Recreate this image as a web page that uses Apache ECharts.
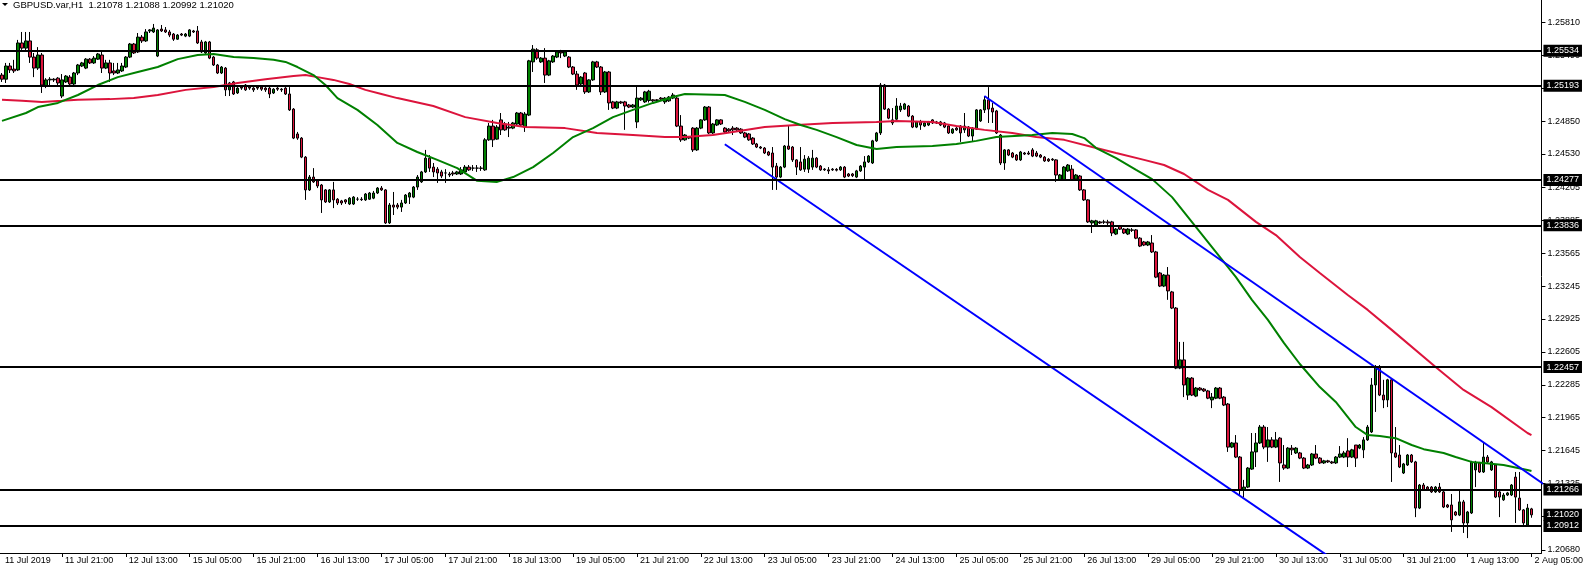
<!DOCTYPE html>
<html><head><meta charset="utf-8">
<script src="https://cdn.jsdelivr.net/npm/echarts@6/dist/echarts.min.js"></script>
<style>html,body{margin:0;padding:0;background:#fff}#c{width:1586px;height:568px}</style>
</head><body><div id="c"></div>
<script>
const chartTitle = 'GBPUSD.var,H1  1.21078 1.21088 1.20992 1.21020';
const xTickLabels = ['11 Jul 2019','11 Jul 21:00','12 Jul 13:00','15 Jul 05:00','15 Jul 21:00','16 Jul 13:00','17 Jul 05:00','17 Jul 21:00','18 Jul 13:00','19 Jul 05:00','21 Jul 21:00','22 Jul 13:00','23 Jul 05:00','23 Jul 21:00','24 Jul 13:00','25 Jul 05:00','25 Jul 21:00','26 Jul 13:00','29 Jul 05:00','29 Jul 21:00','30 Jul 13:00','31 Jul 05:00','31 Jul 21:00','1 Aug 13:00','2 Aug 05:00'];
const yTickValues = [1.25810,1.25490,1.25170,1.24850,1.24530,1.24205,1.23885,1.23565,1.23245,1.22925,1.22605,1.22285,1.21965,1.21645,1.21325,1.21005,1.20680];
const levels = [1.25534,1.25193,1.24277,1.23836,1.22457,1.21266,1.20912];
const bidPrice = 1.21020;

const opens = [
1.25297,1.25257,1.25385,1.25355,1.25347,1.25609,1.25559,1.25629,1.25472,1.25365,
1.25492,1.25190,1.25250,1.25257,1.25267,1.25093,1.25230,1.25277,1.25210,1.25317,
1.25385,1.25365,1.25452,1.25415,1.25452,1.25492,1.25365,1.25415,1.25337,1.25317,
1.25337,1.25375,1.25472,1.25599,1.25522,1.25666,1.25629,1.25726,1.25716,1.25482,
1.25744,1.25736,1.25716,1.25696,1.25646,1.25696,1.25676,1.25676,1.25726,1.25726,
1.25619,1.25512,1.25619,1.25472,1.25395,1.25317,1.25365,1.25153,1.25230,1.25123,
1.25180,1.25200,1.25180,1.25170,1.25180,1.25180,1.25170,1.25170,1.25123,1.25170,
1.25160,1.25170,1.25113,1.24966,1.24724,1.24684,1.24499,1.24180,1.24305,1.24268,
1.24228,1.24180,1.24063,1.24180,1.24090,1.24073,1.24083,1.24043,1.24043,1.24090,
1.24090,1.24083,1.24090,1.24100,1.24150,1.24198,1.24180,1.23859,1.24033,1.24033,
1.24013,1.24053,1.24110,1.24110,1.24208,1.24258,1.24355,1.24489,1.24402,1.24382,
1.24355,1.24345,1.24335,1.24345,1.24335,1.24335,1.24355,1.24402,1.24392,1.24392,
1.24392,1.24375,1.24667,1.24801,1.24674,1.24861,1.24821,1.24791,1.24781,1.24821,
1.24928,1.24791,1.24908,1.25425,1.25542,1.25425,1.25462,1.25297,1.25425,1.25472,
1.25522,1.25482,1.25472,1.25375,1.25307,1.25210,1.25317,1.25133,1.25250,1.25425,
1.25375,1.25133,1.25327,1.25036,1.24976,1.25036,1.25036,1.25006,1.24986,1.24841,
1.25056,1.25036,1.25050,1.25056,1.25056,1.25073,1.25036,1.25046,1.25073,1.25073,
1.24801,1.24667,1.24694,1.24781,1.24569,1.24781,1.24861,1.24986,1.24734,1.24811,
1.24861,1.24781,1.24771,1.24781,1.24781,1.24771,1.24734,1.24724,1.24684,1.24627,
1.24597,1.24587,1.24549,1.24539,1.24412,1.24305,1.24402,1.24607,1.24597,1.24472,
1.24452,1.24382,1.24382,1.24402,1.24489,1.24412,1.24382,1.24375,1.24382,1.24380,
1.24375,1.24402,1.24335,1.24335,1.24305,1.24365,1.24402,1.24452,1.24442,1.24657,
1.24734,1.25200,1.24966,1.24831,1.24868,1.24958,1.24966,1.24996,1.24898,1.24791,
1.24841,1.24801,1.24811,1.24861,1.24841,1.24811,1.24831,1.24801,1.24734,1.24781,
1.24801,1.24764,1.24791,1.24704,1.24771,1.24851,1.24958,1.25056,1.24976,1.24948,
1.24714,1.24442,1.24569,1.24539,1.24519,1.24472,1.24539,1.24539,1.24569,1.24539,
1.24519,1.24499,1.24479,1.24479,1.24472,1.24278,1.24278,1.24365,1.24382,1.24285,
1.24315,1.24180,1.24083,1.23859,1.23839,1.23869,1.23869,1.23869,1.23869,1.23751,
1.23829,1.23799,1.23751,1.23791,1.23791,1.23711,1.23674,1.23644,1.23664,1.23577,
1.23372,1.23245,1.23352,1.23188,1.23031,1.22447,1.22527,1.22185,1.22350,1.22175,
1.22253,1.22243,1.22225,1.22138,1.22155,1.22253,1.22165,1.22098,1.21679,1.21719,
1.21582,1.21263,1.21290,1.21465,1.21632,1.21719,1.21874,1.21679,1.21749,1.21679,
1.21766,1.21505,1.21475,1.21669,1.21622,1.21622,1.21572,1.21475,1.21505,1.21612,
1.21572,1.21525,1.21545,1.21535,1.21525,1.21582,1.21582,1.21642,1.21582,1.21699,
1.21669,1.21652,1.21749,1.21826,1.22283,1.22457,1.22185,1.22138,1.22333,1.21622,
1.21602,1.21427,1.21505,1.21602,1.21535,1.21086,1.21310,1.21290,1.21290,1.21243,
1.21290,1.21243,1.21116,1.21116,1.21048,1.21018,1.21146,1.20941,1.21038,1.21457,
1.21525,1.21437,1.21582,1.21457,1.21505,1.21243,1.21166,1.21213,1.21213,1.21387,
1.21183,1.21068,1.20921,1.21078];
const closes = [
1.25257,1.25385,1.25347,1.25337,1.25609,1.25559,1.25629,1.25472,1.25365,1.25492,
1.25200,1.25250,1.25257,1.25250,1.25220,1.25250,1.25287,1.25210,1.25317,1.25395,
1.25415,1.25452,1.25415,1.25462,1.25502,1.25365,1.25415,1.25317,1.25317,1.25347,
1.25385,1.25472,1.25599,1.25512,1.25666,1.25629,1.25716,1.25736,1.25754,1.25736,
1.25726,1.25716,1.25686,1.25646,1.25686,1.25686,1.25696,1.25736,1.25716,1.25609,
1.25522,1.25619,1.25462,1.25395,1.25317,1.25375,1.25153,1.25220,1.25113,1.25170,
1.25170,1.25153,1.25170,1.25153,1.25170,1.25160,1.25153,1.25113,1.25160,1.25160,
1.25153,1.25113,1.24958,1.24684,1.24684,1.24499,1.24180,1.24305,1.24258,1.24218,
1.24083,1.24063,1.24180,1.24083,1.24053,1.24053,1.24063,1.24100,1.24110,1.24090,
1.24085,1.24140,1.24150,1.24150,1.24198,1.24180,1.23859,1.24033,1.24013,1.24013,
1.24053,1.24130,1.24150,1.24208,1.24305,1.24355,1.24489,1.24392,1.24355,1.24345,
1.24315,1.24345,1.24325,1.24335,1.24355,1.24375,1.24402,1.24375,1.24392,1.24392,
1.24390,1.24667,1.24801,1.24667,1.24791,1.24764,1.24764,1.24781,1.24831,1.24928,
1.24811,1.24918,1.25435,1.25549,1.25462,1.25462,1.25297,1.25435,1.25482,1.25522,
1.25512,1.25522,1.25375,1.25307,1.25200,1.25277,1.25133,1.25250,1.25425,1.25375,
1.25133,1.25327,1.25026,1.24976,1.25036,1.25026,1.24996,1.24986,1.25006,1.25073,
1.25073,1.25133,1.25140,1.25046,1.25050,1.25063,1.25073,1.25083,1.25103,1.24801,
1.24667,1.24714,1.24684,1.24569,1.24781,1.24861,1.24986,1.24734,1.24821,1.24861,
1.24821,1.24744,1.24754,1.24764,1.24764,1.24734,1.24694,1.24667,1.24627,1.24597,
1.24587,1.24539,1.24519,1.24402,1.24305,1.24402,1.24607,1.24577,1.24472,1.24402,
1.24375,1.24479,1.24489,1.24489,1.24402,1.24375,1.24375,1.24365,1.24375,1.24372,
1.24402,1.24305,1.24315,1.24318,1.24365,1.24412,1.24452,1.24509,1.24657,1.24734,
1.25200,1.24966,1.24878,1.24861,1.24996,1.24996,1.25016,1.24898,1.24791,1.24841,
1.24811,1.24831,1.24841,1.24831,1.24831,1.24841,1.24791,1.24734,1.24771,1.24764,
1.24734,1.24801,1.24704,1.24781,1.24958,1.24958,1.25056,1.24966,1.24938,1.24734,
1.24442,1.24569,1.24519,1.24499,1.24472,1.24549,1.24529,1.24529,1.24509,1.24509,
1.24499,1.24462,1.24462,1.24472,1.24325,1.24325,1.24402,1.24422,1.24278,1.24325,
1.24180,1.24083,1.23869,1.23879,1.23879,1.23859,1.23866,1.23859,1.23761,1.23799,
1.23799,1.23761,1.23799,1.23788,1.23711,1.23634,1.23644,1.23674,1.23577,1.23332,
1.23245,1.23352,1.23198,1.23031,1.22447,1.22527,1.22283,1.22350,1.22185,1.22253,
1.22235,1.22225,1.22155,1.22165,1.22253,1.22155,1.22088,1.21679,1.21719,1.21582,
1.21263,1.21290,1.21475,1.21632,1.21719,1.21874,1.21679,1.21749,1.21679,1.21749,
1.21525,1.21475,1.21669,1.21652,1.21669,1.21572,1.21475,1.21505,1.21612,1.21572,
1.21525,1.21545,1.21535,1.21525,1.21582,1.21612,1.21622,1.21582,1.21652,1.21572,
1.21699,1.21749,1.21874,1.22283,1.22457,1.22185,1.22138,1.22333,1.21622,1.21582,
1.21485,1.21515,1.21602,1.21535,1.21086,1.21310,1.21263,1.21270,1.21243,1.21290,
1.21243,1.21096,1.21096,1.20971,1.21018,1.21146,1.20941,1.21048,1.21535,1.21525,
1.21437,1.21582,1.21535,1.21535,1.21193,1.21193,1.21213,1.21233,1.21310,1.21193,
1.21068,1.20941,1.21086,1.21020];
const lows = [
1.25230,1.25220,1.25317,1.25317,1.25337,1.25542,1.25522,1.25415,1.25277,1.25347,
1.25123,1.25170,1.25200,1.25230,1.25200,1.25073,1.25220,1.25200,1.25200,1.25297,
1.25375,1.25355,1.25405,1.25405,1.25445,1.25317,1.25355,1.25230,1.25297,1.25307,
1.25327,1.25365,1.25462,1.25502,1.25512,1.25609,1.25619,1.25706,1.25706,1.25472,
1.25716,1.25706,1.25666,1.25629,1.25639,1.25676,1.25666,1.25666,1.25706,1.25599,
1.25512,1.25502,1.25452,1.25385,1.25307,1.25307,1.25093,1.25093,1.25103,1.25113,
1.25153,1.25143,1.25153,1.25133,1.25153,1.25143,1.25133,1.25073,1.25113,1.25143,
1.25133,1.25103,1.24948,1.24674,1.24667,1.24489,1.24083,1.24170,1.24248,1.24198,
1.23956,1.24053,1.24053,1.24003,1.24033,1.24033,1.24043,1.24033,1.24033,1.24073,
1.24073,1.24073,1.24083,1.24090,1.24140,1.24170,1.23849,1.23849,1.23936,1.23993,
1.23966,1.24043,1.24043,1.24100,1.24180,1.24248,1.24345,1.24355,1.24305,1.24248,
1.24295,1.24248,1.24305,1.24315,1.24325,1.24325,1.24345,1.24365,1.24365,1.24355,
1.24365,1.24365,1.24657,1.24597,1.24667,1.24714,1.24754,1.24694,1.24771,1.24811,
1.24801,1.24744,1.24898,1.25327,1.25445,1.25415,1.25220,1.25287,1.25415,1.25462,
1.25462,1.25472,1.25365,1.25297,1.25153,1.25200,1.25113,1.25123,1.25240,1.25365,
1.25103,1.25123,1.24958,1.24966,1.24966,1.25016,1.24764,1.24976,1.24976,1.24781,
1.25046,1.25026,1.25030,1.25036,1.25046,1.25056,1.25016,1.25036,1.25063,1.24791,
1.24647,1.24657,1.24674,1.24549,1.24559,1.24771,1.24851,1.24724,1.24724,1.24801,
1.24811,1.24734,1.24744,1.24714,1.24754,1.24724,1.24684,1.24657,1.24617,1.24587,
1.24577,1.24529,1.24509,1.24180,1.24180,1.24295,1.24392,1.24569,1.24452,1.24325,
1.24365,1.24355,1.24345,1.24375,1.24392,1.24365,1.24365,1.24335,1.24365,1.24360,
1.24365,1.24295,1.24305,1.24305,1.24295,1.24355,1.24278,1.24442,1.24432,1.24647,
1.24714,1.24958,1.24868,1.24811,1.24861,1.24938,1.24958,1.24888,1.24781,1.24781,
1.24764,1.24791,1.24801,1.24821,1.24821,1.24801,1.24781,1.24724,1.24724,1.24754,
1.24647,1.24734,1.24694,1.24647,1.24764,1.24841,1.24928,1.24831,1.24831,1.24724,
1.24422,1.24375,1.24509,1.24489,1.24462,1.24462,1.24519,1.24519,1.24499,1.24499,
1.24489,1.24452,1.24452,1.24462,1.24258,1.24268,1.24268,1.24355,1.24268,1.24278,
1.24170,1.24073,1.23859,1.23761,1.23829,1.23849,1.23849,1.23839,1.23731,1.23741,
1.23791,1.23751,1.23741,1.23771,1.23701,1.23624,1.23634,1.23634,1.23567,1.23322,
1.23235,1.23235,1.23111,1.23021,1.22437,1.22437,1.22165,1.22138,1.22175,1.22165,
1.22225,1.22215,1.22145,1.22058,1.22145,1.22145,1.22078,1.21632,1.21669,1.21572,
1.21213,1.21193,1.21280,1.21457,1.21485,1.21709,1.21659,1.21535,1.21669,1.21669,
1.21340,1.21457,1.21465,1.21602,1.21612,1.21562,1.21465,1.21465,1.21495,1.21562,
1.21515,1.21515,1.21525,1.21515,1.21515,1.21572,1.21572,1.21485,1.21572,1.21485,
1.21659,1.21572,1.21739,1.21816,1.22021,1.22175,1.22058,1.22068,1.21340,1.21572,
1.21475,1.21417,1.21495,1.21525,1.20998,1.21076,1.21253,1.21263,1.21233,1.21233,
1.21233,1.21086,1.21086,1.20854,1.21008,1.21008,1.20844,1.20794,1.21028,1.21290,
1.21427,1.21427,1.21525,1.21447,1.21183,1.20998,1.21156,1.21203,1.21203,1.20941,
1.21058,1.20911,1.20911,1.20992];
const highs = [
1.25317,1.25415,1.25415,1.25445,1.25639,1.25716,1.25716,1.25716,1.25512,1.25569,
1.25512,1.25267,1.25277,1.25267,1.25277,1.25307,1.25297,1.25297,1.25327,1.25405,
1.25425,1.25462,1.25462,1.25482,1.25512,1.25522,1.25445,1.25445,1.25415,1.25415,
1.25415,1.25482,1.25609,1.25609,1.25706,1.25686,1.25744,1.25744,1.25794,1.25744,
1.25784,1.25764,1.25736,1.25706,1.25696,1.25706,1.25706,1.25744,1.25736,1.25774,
1.25639,1.25629,1.25629,1.25482,1.25405,1.25385,1.25375,1.25230,1.25240,1.25180,
1.25190,1.25210,1.25190,1.25180,1.25190,1.25190,1.25180,1.25190,1.25170,1.25180,
1.25170,1.25180,1.25180,1.24976,1.24744,1.24694,1.24509,1.24325,1.24392,1.24278,
1.24238,1.24188,1.24188,1.24258,1.24100,1.24083,1.24090,1.24110,1.24120,1.24110,
1.24110,1.24150,1.24160,1.24170,1.24208,1.24218,1.24188,1.24053,1.24160,1.24053,
1.24083,1.24140,1.24160,1.24218,1.24325,1.24365,1.24569,1.24519,1.24442,1.24402,
1.24375,1.24382,1.24355,1.24365,1.24365,1.24402,1.24422,1.24422,1.24422,1.24422,
1.24412,1.24684,1.24831,1.24861,1.24811,1.24928,1.24841,1.24841,1.24841,1.24938,
1.24938,1.24938,1.25445,1.25589,1.25559,1.25472,1.25559,1.25445,1.25492,1.25532,
1.25542,1.25532,1.25482,1.25385,1.25337,1.25287,1.25327,1.25257,1.25435,1.25435,
1.25385,1.25337,1.25337,1.25046,1.25046,1.25046,1.25046,1.25016,1.25016,1.25200,
1.25083,1.25143,1.25153,1.25063,1.25063,1.25083,1.25083,1.25093,1.25123,1.25103,
1.24908,1.24724,1.24704,1.24791,1.24791,1.24868,1.24996,1.24996,1.24831,1.24868,
1.24868,1.24791,1.24781,1.24801,1.24791,1.24781,1.24744,1.24734,1.24694,1.24637,
1.24607,1.24597,1.24559,1.24597,1.24442,1.24412,1.24617,1.24811,1.24607,1.24479,
1.24597,1.24519,1.24509,1.24569,1.24499,1.24422,1.24392,1.24402,1.24392,1.24392,
1.24412,1.24412,1.24345,1.24345,1.24375,1.24422,1.24509,1.24519,1.24667,1.24744,
1.25220,1.25210,1.24976,1.24976,1.25073,1.25026,1.25026,1.25006,1.24908,1.24851,
1.24861,1.24841,1.24851,1.24868,1.24851,1.24851,1.24841,1.24811,1.24781,1.24791,
1.24811,1.24928,1.24801,1.24791,1.24966,1.24966,1.25093,1.25180,1.25026,1.24958,
1.24724,1.24577,1.24577,1.24549,1.24529,1.24559,1.24549,1.24559,1.24587,1.24559,
1.24529,1.24509,1.24489,1.24489,1.24479,1.24335,1.24412,1.24432,1.24422,1.24335,
1.24325,1.24188,1.24090,1.23889,1.23889,1.23879,1.23889,1.23889,1.23879,1.23809,
1.23839,1.23809,1.23809,1.23809,1.23799,1.23721,1.23684,1.23684,1.23741,1.23587,
1.23382,1.23362,1.23430,1.23198,1.23041,1.22702,1.22702,1.22360,1.22360,1.22263,
1.22263,1.22253,1.22235,1.22205,1.22263,1.22263,1.22175,1.22108,1.21729,1.21796,
1.21592,1.21360,1.21485,1.21816,1.21816,1.21894,1.21894,1.21874,1.21776,1.21826,
1.21776,1.21699,1.21679,1.21699,1.21679,1.21632,1.21582,1.21515,1.21622,1.21699,
1.21582,1.21555,1.21555,1.21545,1.21592,1.21689,1.21642,1.21766,1.21662,1.21699,
1.21709,1.21776,1.21894,1.22350,1.22477,1.22477,1.22333,1.22343,1.22343,1.21874,
1.21699,1.21525,1.21612,1.21612,1.21545,1.21320,1.21330,1.21300,1.21300,1.21300,
1.21330,1.21253,1.21126,1.21223,1.21058,1.21263,1.21165,1.21058,1.21545,1.21545,
1.21535,1.21719,1.21602,1.21545,1.21515,1.21253,1.21233,1.21243,1.21320,1.21437,
1.21437,1.21077,1.21126,1.21088];

// moving averages, read as [bar index, price]
const maGreen = [[0,1.24851],[6,1.24928],[9,1.24986],[14,1.25026],[19,1.25103],[24,1.25200],[29,1.25277],[34,1.25327],[39,1.25375],[44,1.25452],[49,1.25492],[53,1.25502],[58,1.25472],[63,1.25462],[68,1.25445],[71,1.25425],[74,1.25375],[78,1.25297],[81,1.25200],[84,1.25073],[89,1.24958],[94,1.24811],[99,1.24637],[104,1.24549],[109,1.24472],[114,1.24392],[119,1.24268],[124,1.24258],[128,1.24305],[133,1.24402],[138,1.24539],[143,1.24694],[148,1.24781],[153,1.24888],[158,1.24958],[163,1.25026],[168,1.25083],[171,1.25113],[181,1.25103],[186,1.25036],[191,1.24958],[196,1.24868],[200,1.24811],[204,1.24764],[209,1.24694],[214,1.24617],[219,1.24577],[224,1.24597],[233,1.24607],[239,1.24627],[244,1.24657],[249,1.24694],[258,1.24714],[263,1.24734],[268,1.24724],[271,1.24684],[274,1.24587],[279,1.24489],[284,1.24375],[288,1.24285],[293,1.24110],[299,1.23819],[305,1.23527],[309,1.23332],[313,1.23111],[317,1.22916],[321,1.22692],[325,1.22487],[330,1.22263],[334,1.22118],[339,1.21874],[342,1.21796],[345,1.21786],[349,1.21766],[353,1.21699],[356,1.21659],[361,1.21622],[364,1.21582],[368,1.21535],[371,1.21525],[376,1.21505],[382,1.21457],[383,1.21447]];
const maRed = [[0,1.25056],[5,1.25046],[10,1.25036],[15,1.25046],[19,1.25056],[27,1.25063],[33,1.25073],[39,1.25103],[46,1.25153],[53,1.25180],[59,1.25220],[66,1.25257],[73,1.25287],[76,1.25297],[79,1.25277],[83,1.25250],[87,1.25210],[91,1.25153],[95,1.25113],[99,1.25073],[108,1.24996],[116,1.24888],[124,1.24831],[131,1.24791],[141,1.24781],[149,1.24734],[158,1.24714],[166,1.24694],[171,1.24694],[178,1.24714],[183,1.24744],[191,1.24791],[199,1.24811],[208,1.24831],[219,1.24841],[224,1.24851],[233,1.24841],[239,1.24801],[246,1.24764],[253,1.24734],[259,1.24694],[266,1.24667],[273,1.24597],[279,1.24539],[286,1.24472],[291,1.24422],[296,1.24335],[302,1.24180],[307,1.24083],[314,1.23869],[319,1.23741],[325,1.23527],[330,1.23372],[337,1.23158],[342,1.23013],[348,1.22819],[359,1.22457],[366,1.22235],[373,1.22068],[382,1.21816],[383,1.21796]];
const channelUpper = [[246,1.25093],[386,1.21320]];
const channelLower = [[181,1.24624],[340,1.20410]];

const FONT = "'Liberation Sans', Arial, sans-serif";
const barCount = opens.length;
const slotCount = barCount + 2;
const cats = [], labelAt = {};
for (let i = 0; i < slotCount; i++) cats.push(String(i));
labelAt[0] = xTickLabels[0];
for (let k = 1; k < xTickLabels.length; k++) labelAt[15 + 16 * (k - 1)] = xTickLabels[k];
const candles = opens.map((o, i) => [o, closes[i], lows[i], highs[i]]);

const boxLabel = {show: true, position: 'end', distance: 2, formatter: (p) => Number(p.value).toFixed(5),
  color: '#fff', backgroundColor: '#000', padding: [2, 3, 1, 3], fontSize: 9,
  fontFamily: FONT, align: 'left', verticalAlign: 'middle'};

const chart = echarts.init(document.getElementById('c'), null, {renderer: 'canvas'});
chart.setOption({
  animation: false,
  backgroundColor: '#ffffff',
  title: {text: chartTitle, left: 13, top: 0, padding: 0,
    textStyle: {fontSize: 9.5, fontWeight: 'normal', color: '#000', fontFamily: FONT}},
  graphic: [{type: 'polygon', shape: {points: [[2, 3], [8, 3], [5, 6]]}, style: {fill: '#000'}}],
  grid: {left: 0, right: 42, top: 0, bottom: 15, containLabel: false},
  xAxis: {
    type: 'category', data: cats, boundaryGap: true,
    axisLine: {show: true, lineStyle: {color: '#000', width: 1}},
    axisTick: {show: true, alignWithLabel: true, length: 4, lineStyle: {color: '#000'},
      interval: (i) => labelAt[i] !== undefined && i > 0},
    axisLabel: {show: true, interval: (i) => labelAt[i] !== undefined, formatter: (v, i) => labelAt[i] || '',
      align: 'left', padding: [0, 0, 0, 3], margin: 3, fontSize: 9, color: '#000', fontFamily: FONT},
    splitLine: {show: false}
  },
  yAxis: {
    type: 'value', position: 'right', min: 1.20649, max: 1.26027, scale: true,
    axisLine: {show: true, lineStyle: {color: '#000', width: 1}},
    axisTick: {show: true, length: 4, lineStyle: {color: '#000'}, customValues: yTickValues},
    axisLabel: {show: true, customValues: yTickValues, formatter: (v) => v.toFixed(5),
      margin: 6, fontSize: 9, color: '#000', fontFamily: FONT},
    splitLine: {show: false}
  },
  series: [
    {type: 'candlestick', data: candles, barWidth: 3, clip: true, silent: true,
      itemStyle: {color: '#008000', color0: '#DC143C', borderColor: '#000', borderColor0: '#000',
        borderColorDoji: '#000', borderWidth: 1}},
    {type: 'line', data: maRed, showSymbol: false, silent: true, clip: true,
      lineStyle: {color: '#DC143C', width: 2}},
    {type: 'line', data: maGreen, showSymbol: false, silent: true, clip: true,
      lineStyle: {color: '#008000', width: 2}},
    {type: 'line', data: channelUpper, showSymbol: false, silent: true, clip: true,
      lineStyle: {color: '#0000FF', width: 2}},
    {type: 'line', data: channelLower, showSymbol: false, silent: true, clip: true,
      lineStyle: {color: '#0000FF', width: 2}},
    {type: 'line', data: [], silent: true, clip: false,
      markLine: {
        symbol: 'none', silent: true, animation: false, precision: 5,
        lineStyle: {color: 'rgba(0,0,0,0)', width: 1, type: 'solid'},
        label: boxLabel,
        emphasis: {disabled: true},
        data: [{yAxis: bidPrice}]
      }},
    {type: 'line', data: [], silent: true, clip: false,
      markLine: {
        symbol: 'none', silent: true, animation: false, precision: 5,
        lineStyle: {color: '#000', width: 2, type: 'solid'},
        label: boxLabel,
        emphasis: {disabled: true},
        data: levels.map(v => ({yAxis: v}))
      }}
  ]
});
</script>
</body></html>
